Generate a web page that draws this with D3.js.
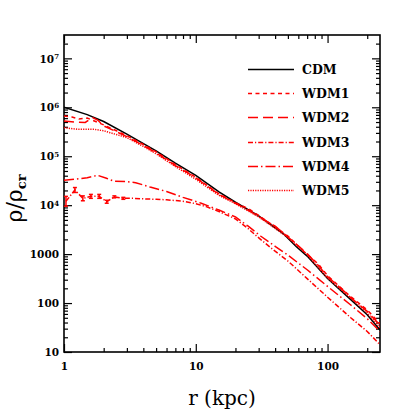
<!DOCTYPE html>
<html>
<head>
<meta charset="utf-8">
<script src="https://cdn.jsdelivr.net/npm/d3@7"></script>
<style>
  body { margin: 0; background: #fff; }
  .tick text { font-family: 'DejaVu Serif', serif; font-weight: bold; font-size: 10.5px; fill: #000; }
</style>
</head>
<body>
<div id="chart"></div>
<script>
  'use strict';

  // axis ranges and tick labels
  var xDomain = [1, 250];
  var yDomain = [10, 3e7];
  var xMajorTicks = [1, 10, 100];
  var yMajorTicks = [10, 100, 1000, 1e4, 1e5, 1e6, 1e7];
  var yTickBase = ['10', '100', '1000', '10', '10', '10', '10'];
  var yTickExp = ['', '', '', '4', '5', '6', '7'];

  var seriesNames = ['CDM', 'WDM1', 'WDM2', 'WDM3', 'WDM4', 'WDM5'];

  // radius (kpc) and log10(rho/rho_cr)
  var cdmR = [1, 1.5, 2, 3, 5, 7, 10, 15, 20, 30, 46, 58, 70, 100, 150, 200, 250];
  var cdmLogRho = [6.00, 5.85, 5.71, 5.45, 5.11, 4.86, 4.61, 4.27, 4.06, 3.78, 3.42, 3.15, 2.96, 2.50, 2.07, 1.76, 1.45];

  var wdm1R = [1, 1.15, 1.3, 1.5, 1.7, 2, 2.5, 3, 4, 5, 7, 10, 15, 20, 25, 30, 40, 50, 70, 85, 100, 130, 150, 200, 250];
  var wdm1LogRho = [5.82, 5.80, 5.76, 5.78, 5.72, 5.64, 5.52, 5.42, 5.24, 5.09, 4.83, 4.57, 4.23, 4.05, 3.93, 3.79, 3.56, 3.37, 2.99, 2.80, 2.56, 2.28, 2.13, 1.86, 1.58];

  var wdm2R = [1, 1.2, 1.45, 1.65, 1.8, 2, 2.5, 3, 4, 5, 7, 10, 15, 20, 25, 30, 40, 50, 70, 85, 100, 130, 150, 200, 250];
  var wdm2LogRho = [5.72, 5.70, 5.69, 5.79, 5.74, 5.62, 5.50, 5.40, 5.22, 5.07, 4.81, 4.56, 4.22, 4.04, 3.90, 3.77, 3.57, 3.35, 3.01, 2.77, 2.54, 2.27, 2.11, 1.83, 1.55];

  var wdm3R = [1.035, 1.21, 1.39, 1.6, 1.85, 2.11, 2.41, 2.82, 3.3, 4, 5, 6, 8, 10, 12, 15, 20, 25, 31, 40, 50, 70, 100, 150, 200, 250];
  var wdm3LogRho = [4.08, 4.31, 4.14, 4.18, 4.18, 4.07, 4.17, 4.14, 4.14, 4.13, 4.12, 4.11, 4.08, 4.03, 3.97, 3.87, 3.72, 3.52, 3.30, 3.06, 2.86, 2.50, 2.12, 1.70, 1.42, 1.15];
  var wdm3ErrR = [1.035, 1.21, 1.39, 1.6, 1.85, 2.11, 2.41, 2.82];
  var wdm3ErrLog = [0.10, 0.05, 0.05, 0.04, 0.04, 0.03, 0.02, 0.02];

  var wdm4R = [1, 1.2, 1.5, 1.8, 2.1, 2.4, 3, 3.5, 4.5, 6, 8, 11, 15, 20, 25, 31, 40, 50, 70, 100, 150, 200, 250];
  var wdm4LogRho = [4.51, 4.53, 4.56, 4.61, 4.55, 4.49, 4.48, 4.46, 4.37, 4.28, 4.16, 4.04, 3.90, 3.76, 3.57, 3.37, 3.16, 2.98, 2.68, 2.34, 1.96, 1.68, 1.42];

  var wdm5R = [1, 1.3, 1.7, 2, 3, 4, 5, 7, 10, 15, 20, 30, 50, 70, 100, 150, 200, 250];
  var wdm5LogRho = [5.58, 5.55, 5.55, 5.52, 5.38, 5.20, 5.05, 4.79, 4.53, 4.20, 4.03, 3.76, 3.34, 2.99, 2.51, 2.10, 1.80, 1.50];

  var WIDTH = 415;
  var HEIGHT = 415;
  var MARGIN = { TOP: 35, RIGHT: 35, BOTTOM: 63, LEFT: 64 };
  var MAJOR_TICK = 8;
  var MINOR_TICK = 4;
  var LINE_W = 1.5;

  var styles = [
    { color: '#000', dash: null },
    { color: '#ff0000', dash: '4,3.5' },
    { color: '#ff0000', dash: '10,5' },
    { color: '#ff0000', dash: '5,2,1.2,2' },
    { color: '#ff0000', dash: '10,3,1.5,3' },
    { color: '#ff0000', dash: '1.2,1.2' }
  ];

  function toPoints(rs, logs) {
    return rs.map(function(r, i) {
      return { r: r, rho: Math.pow(10, logs[i]) };
    });
  }

  var series = [
    toPoints(cdmR, cdmLogRho),
    toPoints(wdm1R, wdm1LogRho),
    toPoints(wdm2R, wdm2LogRho),
    toPoints(wdm3R, wdm3LogRho),
    toPoints(wdm4R, wdm4LogRho),
    toPoints(wdm5R, wdm5LogRho)
  ];

  function minorTicks(domain) {
    var out = [];
    for (var k = -1; k < 9; k++) {
      for (var m = 2; m <= 9; m++) {
        var v = m * Math.pow(10, k);
        if (v > domain[0] && v < domain[1]) out.push(v);
      }
    }
    return out;
  }

  function build(element) {
    var width = WIDTH - MARGIN.LEFT - MARGIN.RIGHT;
    var height = HEIGHT - MARGIN.TOP - MARGIN.BOTTOM;

    var x = d3.scaleLog().domain(xDomain).range([0, width]);
    var y = d3.scaleLog().domain(yDomain).range([height, 0]);

    var svg = d3.select(element).append('svg')
      .attr('width', WIDTH)
      .attr('height', HEIGHT)
      .append('g')
      .attr('transform', 'translate(' + MARGIN.LEFT + ',' + MARGIN.TOP + ')');

    svg.append('clipPath').attr('id', 'plot-clip')
      .append('rect').attr('width', width).attr('height', height);

    // ticks, pointing inward on all four sides
    function axisPair(axisFn, scale, major, minor, transform, labels) {
      var gMinor = svg.append('g').attr('transform', transform)
        .call(axisFn(scale).tickValues(minor).tickSize(-MINOR_TICK).tickFormat(''));
      var gMajor = svg.append('g').attr('transform', transform)
        .call(axisFn(scale).tickValues(major).tickSize(-MAJOR_TICK).tickPadding(labels ? 11 + MAJOR_TICK : 0)
          .tickFormat(labels ? null : ''));
      [gMinor, gMajor].forEach(function(g) {
        g.select('.domain').remove();
        g.selectAll('line').attr('stroke', '#000').attr('stroke-width', 1.2);
      });
      return gMajor;
    }

    var gx = axisPair(d3.axisBottom, x, xMajorTicks, minorTicks(xDomain), 'translate(0,' + height + ')', true);
    gx.selectAll('text').text(function(d) { return d3.format('d')(d); })
      .attr('y', 11);
    axisPair(d3.axisTop, x, xMajorTicks, minorTicks(xDomain), 'translate(0,0)', false);

    var gy = axisPair(d3.axisLeft, y, yMajorTicks, minorTicks(yDomain), 'translate(0,0)', true);
    gy.selectAll('text')
      .attr('x', -5)
      .attr('dy', '0.35em')
      .text(null)
      .each(function(d, i) {
        var t = d3.select(this);
        t.append('tspan').text(yTickBase[i]);
        if (yTickExp[i]) {
          t.append('tspan').attr('dy', '-0.55em').style('font-size', '7px').text(yTickExp[i]);
        }
      });
    axisPair(d3.axisRight, y, yMajorTicks, minorTicks(yDomain), 'translate(' + width + ',0)', false);

    svg.append('rect')
      .attr('width', width)
      .attr('height', height)
      .attr('fill', 'none')
      .attr('stroke', '#000')
      .attr('stroke-width', 1.6);

    var line = d3.line()
      .x(function(d) { return x(d.r); })
      .y(function(d) { return y(d.rho); });

    var plot = svg.append('g').attr('clip-path', 'url(#plot-clip)');

    series.forEach(function(data, i) {
      plot.append('path')
        .datum(data)
        .attr('d', line)
        .attr('fill', 'none')
        .attr('stroke', styles[i].color)
        .attr('stroke-width', LINE_W)
        .attr('stroke-dasharray', styles[i].dash);
    });

    // error bars on the WDM3 core
    var errData = wdm3ErrR.map(function(r, i) {
      var c = wdm3LogRho[wdm3R.indexOf(r)];
      return { r: r, lo: Math.pow(10, c - wdm3ErrLog[i]), hi: Math.pow(10, c + wdm3ErrLog[i]) };
    });
    var bars = plot.selectAll('.err').data(errData).enter().append('g')
      .attr('class', 'err')
      .attr('stroke', '#ff0000')
      .attr('stroke-width', LINE_W);
    bars.append('line')
      .attr('x1', function(d) { return x(d.r); })
      .attr('x2', function(d) { return x(d.r); })
      .attr('y1', function(d) { return y(d.lo); })
      .attr('y2', function(d) { return y(d.hi); });
    bars.append('line')
      .attr('x1', function(d) { return x(d.r) - 2; })
      .attr('x2', function(d) { return x(d.r) + 2; })
      .attr('y1', function(d) { return y(d.lo); })
      .attr('y2', function(d) { return y(d.lo); });
    bars.append('line')
      .attr('x1', function(d) { return x(d.r) - 2; })
      .attr('x2', function(d) { return x(d.r) + 2; })
      .attr('y1', function(d) { return y(d.hi); })
      .attr('y2', function(d) { return y(d.hi); });

    // legend
    var legend = svg.append('g').attr('transform', 'translate(184,34.5)');
    seriesNames.forEach(function(name, i) {
      var row = legend.append('g').attr('transform', 'translate(0,' + Math.round(i * 24.2) + ')');
      row.append('line')
        .attr('x1', 0).attr('x2', 46)
        .attr('stroke', styles[i].color)
        .attr('stroke-width', LINE_W)
        .attr('stroke-dasharray', styles[i].dash);
      row.append('text')
        .attr('x', 54)
        .attr('y', 4.5)
        .style('font-family', "'DejaVu Serif', serif")
        .style('font-weight', 'bold')
        .style('font-size', '12.5px')
        .text(name);
    });

    // axis titles
    svg.append('text')
      .attr('x', width / 2)
      .attr('y', height + 53)
      .attr('text-anchor', 'middle')
      .style('font-family', "'DejaVu Serif', serif")
      .style('font-size', '20px')
      .text('r (kpc)');

    var yTitle = svg.append('text')
      .attr('transform', 'translate(' + (-42) + ',' + (height / 2 + 5) + ') rotate(-90)')
      .attr('text-anchor', 'middle')
      .style('font-family', "'DejaVu Serif', serif")
      .style('font-size', '22px');
    yTitle.append('tspan').text('ρ/ρ');
    yTitle.append('tspan').attr('dy', '0.3em').style('font-size', '13px').style('font-weight', 'bold').text('cr');
  }

  build('#chart');
</script>
</body>
</html>
